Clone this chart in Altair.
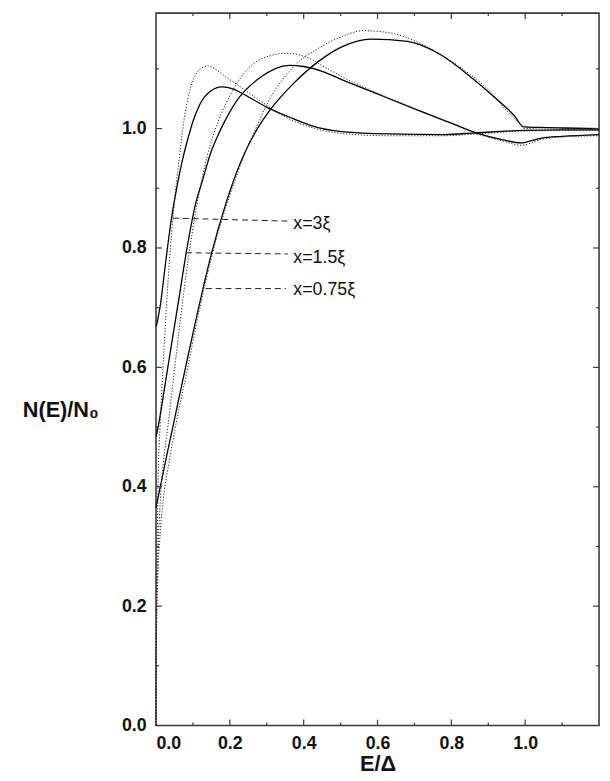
import altair as alt
import pandas as pd

# ---------------- data ----------------
# x = 3 xi
E_solid_3 = [0, 0.003, 0.007, 0.012, 0.02, 0.032, 0.045, 0.056, 0.07, 0.085, 0.1, 0.12, 0.148, 0.179,
             0.21, 0.236, 0.299, 0.37, 0.42, 0.503, 0.633, 0.779, 0.868, 0.996, 1.1, 1.2]
N_solid_3 = [0.669, 0.675, 0.688, 0.705, 0.745, 0.805, 0.862, 0.9, 0.943, 0.98, 1.012, 1.042, 1.063, 1.070,
             1.066, 1.058, 1.036, 1.017, 1.005, 0.995, 0.991, 0.990, 0.993, 0.997, 0.998, 0.998]
E_dot_3 = [0, 0.0003, 0.001, 0.003, 0.006, 0.011, 0.016, 0.022, 0.028, 0.036, 0.048, 0.063, 0.076, 0.09,
           0.103, 0.12, 0.142, 0.162, 0.19, 0.219, 0.281, 0.352, 0.41, 0.5, 0.63, 0.78, 0.87, 1.0, 1.2]
N_dot_3 = [0, 0.1, 0.18, 0.3, 0.42, 0.5, 0.565, 0.635, 0.70, 0.775, 0.865, 0.95, 1.015, 1.06,
           1.085, 1.1, 1.105, 1.099, 1.086, 1.074, 1.047, 1.019, 1.004, 0.992, 0.988, 0.988, 0.991, 0.996, 0.997]

# x = 1.5 xi
E_solid_15 = [0, 0.005, 0.014, 0.032, 0.061, 0.084, 0.108, 0.124, 0.148, 0.174, 0.219, 0.281, 0.361, 0.40,
              0.45, 0.5, 0.6, 0.7, 0.8, 0.876, 0.94, 0.99, 1.0, 1.045, 1.1, 1.2]
N_solid_15 = [0.484, 0.498, 0.53, 0.6, 0.711, 0.8, 0.876, 0.909, 0.959, 0.997, 1.047, 1.085, 1.106, 1.104,
              1.096, 1.083, 1.058, 1.033, 1.009, 0.991, 0.981, 0.976, 0.977, 0.984, 0.987, 0.99]
E_dot_15 = [0, 0.0005, 0.002, 0.006, 0.012, 0.02, 0.032, 0.048, 0.066, 0.087, 0.11, 0.139, 0.16, 0.192,
            0.236, 0.29, 0.352, 0.414, 0.46, 0.503, 0.55, 0.6, 0.7, 0.8, 0.876, 0.94, 0.99, 1.0, 1.045, 1.1, 1.2]
N_dot_15 = [0, 0.1, 0.2, 0.3, 0.38, 0.44, 0.5, 0.585, 0.68, 0.78, 0.87, 0.955, 0.998, 1.045,
            1.091, 1.118, 1.126, 1.118, 1.102, 1.087, 1.073, 1.059, 1.034, 1.009, 0.99, 0.979, 0.972, 0.973,
            0.982, 0.986, 0.988]

# x = 0.75 xi
E_solid_075 = [0, 0.01, 0.03, 0.05, 0.08, 0.11, 0.15, 0.19, 0.23, 0.27, 0.31, 0.37, 0.441, 0.503, 0.583,
               0.681, 0.77, 0.859, 0.912, 0.97, 0.996, 1.036, 1.1, 1.2]
N_solid_075 = [0.365, 0.395, 0.455, 0.513, 0.6, 0.685, 0.79, 0.876, 0.945, 0.995, 1.032, 1.074, 1.113, 1.137, 1.150,
               1.146, 1.124, 1.083, 1.055, 1.022, 1.003, 1.002, 1.001, 1.0]
E_dot_075 = [0, 0.0005, 0.002, 0.005, 0.01, 0.02, 0.035, 0.052, 0.086, 0.112, 0.157, 0.19, 0.215, 0.24, 0.27,
             0.3, 0.37, 0.441, 0.503, 0.561, 0.636, 0.725, 0.814, 0.903, 0.95, 0.985, 0.998, 1.05, 1.2]
N_dot_075 = [0, 0.1, 0.18, 0.25, 0.31, 0.38, 0.44, 0.498, 0.6, 0.68, 0.8, 0.87, 0.915, 0.958, 1.0,
             1.04, 1.102, 1.135, 1.154, 1.164, 1.160, 1.140, 1.107, 1.063, 1.03, 1.008, 1.0, 1.001, 1.0]

# annotations
label_text = ["x=3ξ", "x=1.5ξ", "x=0.75ξ"]
label_E = [0.372, 0.372, 0.372]
label_N = [0.840, 0.783, 0.729]
leader_E0 = [0.046, 0.081, 0.135]
leader_N0 = [0.850, 0.792, 0.732]
leader_E1 = [0.357, 0.357, 0.352]
leader_N1 = [0.845, 0.790, 0.732]

# axis ticks
x_tick_labels = [0.0, 0.2, 0.4, 0.6, 0.8, 1.0]
y_tick_labels = [0.0, 0.2, 0.4, 0.6, 0.8, 1.0]
x_major = [0.2, 0.4, 0.6, 0.8, 1.0]
x_minor = [0.1, 0.3, 0.5, 0.7, 0.9, 1.1]
y_major = [0.2, 0.4, 0.6, 0.8, 1.0]
y_minor = [0.1, 0.3, 0.5, 0.7, 0.9, 1.1]

# ---------------- build ----------------
W, H = 449, 722
FONT = "Liberation Sans"
FRAME = "#3a3a3a"


def frame(E, N, name):
    return pd.DataFrame({"E": E, "N": N, "curve": name, "i": list(range(len(E)))})


solid = pd.concat([frame(E_solid_3, N_solid_3, "3"),
                   frame(E_solid_15, N_solid_15, "1.5"),
                   frame(E_solid_075, N_solid_075, "0.75")])
dotted = pd.concat([frame(E_dot_3, N_dot_3, "3"),
                    frame(E_dot_15, N_dot_15, "1.5"),
                    frame(E_dot_075, N_dot_075, "0.75")])

xs = alt.Scale(domain=[0, 1.2], nice=False, zero=False)
ys = alt.Scale(domain=[0, 1.1934], nice=False, zero=False)

x_axis = alt.Axis(values=x_tick_labels, format=".1f", ticks=False, domain=False, grid=False,
                  labelFont=FONT, labelFontSize=18, labelFontWeight="bold", labelColor="#111",
                  labelPadding=9, labelFlush=True, title="E/Δ", titleFont=FONT, titleFontSize=22,
                  titleFontWeight="bold", titleColor="#111", titleY=46, titleBaseline="alphabetic")
y_axis = alt.Axis(values=y_tick_labels, format=".1f", ticks=False, domain=False, grid=False,
                  labelFont=FONT, labelFontSize=18, labelFontWeight="bold", labelColor="#111",
                  labelPadding=10, title="N(E)/N₀", titleFont=FONT, titleFontSize=22,
                  titleFontWeight="bold", titleColor="#111", titleAngle=0, titleX=-97, titleY=402,
                  titleAlign="center", titleBaseline="middle")

X = lambda f: alt.X(f, scale=xs, axis=x_axis)
Y = lambda f: alt.Y(f, scale=ys, axis=y_axis)

solid_layer = alt.Chart(solid).mark_line(color="black", strokeWidth=1.3, interpolate="monotone").encode(
    x=X("E:Q"), y=Y("N:Q"), detail="curve:N", order="i:Q")

dotted_layer = alt.Chart(dotted).mark_line(color="#222", strokeWidth=1.0, strokeDash=[1.2, 1.8],
                                           interpolate="monotone").encode(
    x=X("E:Q"), y=Y("N:Q"), detail="curve:N", order="i:Q")

leaders = pd.DataFrame({"E": leader_E0, "N": leader_N0, "E1": leader_E1, "N1": leader_N1})
leader_layer = alt.Chart(leaders).mark_rule(color="#222", strokeWidth=1.0, strokeDash=[6, 4]).encode(
    x=X("E:Q"), x2="E1:Q", y=Y("N:Q"), y2="N1:Q")

labels = pd.DataFrame({"E": label_E, "N": label_N, "t": label_text})
label_layer = alt.Chart(labels).mark_text(align="left", baseline="middle", font=FONT, fontSize=18,
                                          color="#111").encode(
    x=X("E:Q"), y=Y("N:Q"), text="t:N")


def xticks(vals, y0, y1):
    return alt.Chart(pd.DataFrame({"E": vals})).mark_rule(color=FRAME, strokeWidth=1.2).encode(
        x=X("E:Q"), y=alt.value(y0), y2=alt.value(y1))


def yticks(vals, x0, x1):
    return alt.Chart(pd.DataFrame({"N": vals})).mark_rule(color=FRAME, strokeWidth=1.2).encode(
        y=Y("N:Q"), x=alt.value(x0), x2=alt.value(x1))


tick_layers = [
    xticks(x_major, H, H - 6), xticks(x_minor, H, H - 3),
    xticks(x_major, 0, 6), xticks(x_minor, 0, 3),
    yticks(y_major, 0, 6), yticks(y_minor, 0, 3),
    yticks(y_major, W, W - 6), yticks(y_minor, W, W - 3),
]

chart = alt.layer(solid_layer, dotted_layer, leader_layer, label_layer, *tick_layers).properties(
    width=W, height=H,
    autosize=alt.AutoSizeParams(type="none"),
    padding={"left": 150, "top": 0, "right": 3, "bottom": 51},
).configure_view(stroke=FRAME, strokeWidth=1.6)

chart.save("out.html", embed_options={"renderer": "svg", "actions": False})
